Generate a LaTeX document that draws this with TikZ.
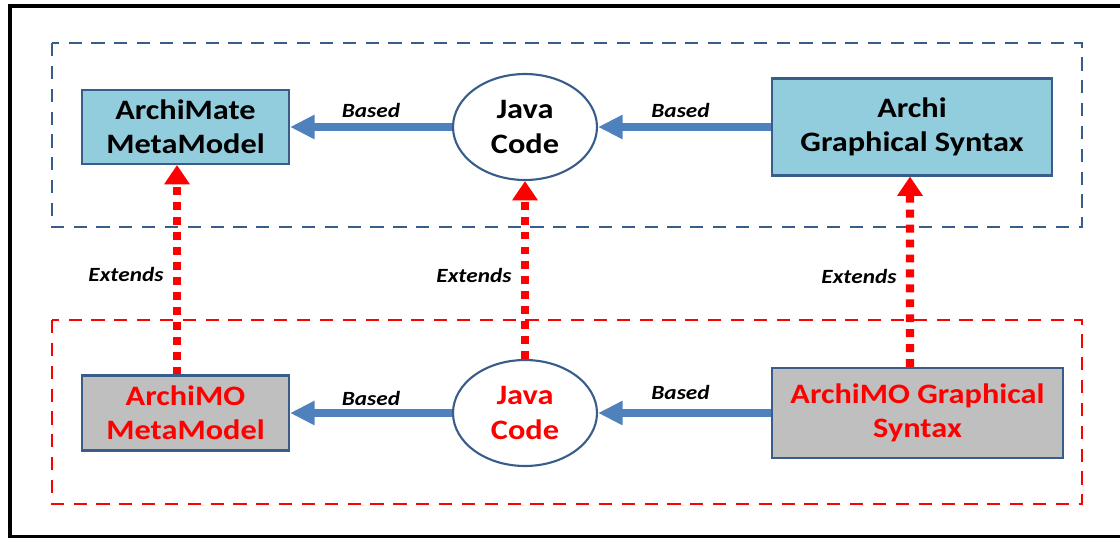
\documentclass[tikz,border=0pt]{standalone}
\usepackage{fontspec}
\setmainfont{Carlito}[FakeStretch=1.15]
\usepackage{tikz}
\usetikzlibrary{arrows.meta,shapes.geometric}
\definecolor{fillblue}{RGB}{146,205,221}
\definecolor{fillgray}{RGB}{191,191,191}
\definecolor{borderblue}{RGB}{56,93,138}
\definecolor{lineblue}{RGB}{79,129,189}
\tikzstyle{boxblue}=[rectangle, draw=borderblue, line width=1.2pt, fill=fillblue, align=center, font=\fontsize{16}{19.5}\selectfont\bfseries]
\tikzstyle{boxgray}=[rectangle, draw=borderblue, line width=1.2pt, fill=fillgray, text=red, align=center, font=\fontsize{16}{19.5}\selectfont\bfseries]
\tikzstyle{javaoval}=[ellipse, draw=borderblue, line width=1.2pt, fill=white, minimum width=2.88cm, minimum height=2.12cm, align=center, font=\fontsize{16}{19.5}\selectfont\bfseries]
\tikzstyle{based}=[draw=lineblue, line width=4pt, -{Triangle[length=14pt, width=13pt]}]
\tikzstyle{extends}=[draw=red, line width=4.8pt, dash pattern=on 4.5pt off 4pt, -{Triangle[length=11pt, width=14pt]}]
\tikzstyle{edgelabel}=[font=\fontsize{11.5}{13}\selectfont\bfseries\itshape, text=black]
\tikzstyle{groupblue}=[draw=borderblue, line width=1.4pt, dash pattern=on 7.5pt off 5.5pt]
\tikzstyle{groupred}=[draw=red, line width=1.4pt, dash pattern=on 7.5pt off 5.5pt]

\begin{document}
\begin{tikzpicture}[x=0.02cm, y=-0.02cm]
		\useasboundingbox (0, 0) rectangle (1120, 538);
		\begin{scope}
			\clip (0, 0) rectangle (1120, 538);
			\draw [line width=2.8pt] (10, 6) rectangle (1140, 537);
		\end{scope}
		\draw [groupblue] (52, 43) rectangle (1082, 227);
		\draw [groupred] (52, 320) rectangle (1082, 504);

		\begin{scope}
			\node (amm) at (185.5, 127)[boxblue, minimum width=4.14cm, minimum height=1.48cm] {ArchiMate\\MetaModel};
			\node (jct) at (525, 127)[javaoval] {Java\\Code};
			\node (ags) at (912, 127)[boxblue, minimum width=5.6cm, minimum height=1.94cm] {Archi\\Graphical Syntax};

			\node (omm) at (185.5, 413)[boxgray, minimum width=4.14cm, minimum height=1.5cm] {ArchiMO\\MetaModel};
			\node (jcb) at (525, 413)[javaoval, text=red] {Java\\Code};
			\node (ogs) at (917.5, 413)[boxgray, minimum width=5.82cm, minimum height=1.8cm] {ArchiMO Graphical\\Syntax};
		\end{scope}
		\begin{scope}
			\draw [based] (jct) -- node[edgelabel, above=0pt] {Based} (amm);
			\draw [based] (ags) -- node[edgelabel, above=0pt, xshift=-0.08cm] {Based} (jct);
			\draw [based] (jcb) -- node[edgelabel, above=-1pt] {Based} (omm);
			\draw [based] (ogs) -- node[edgelabel, above=2pt, xshift=-0.08cm] {Based} (jcb);

			\draw [extends] ([xshift=-0.17cm]omm.north) -- node[edgelabel, left=2pt, yshift=-0.1cm] {Extends} ([xshift=-0.17cm]amm.south);
			\draw [extends] (jcb) -- node[edgelabel, left=2pt, yshift=-0.1cm] {Extends} (jct);
			\draw [extends] ([xshift=-0.15cm]ogs.north) -- node[edgelabel, left=2pt, yshift=-0.1cm] {Extends} ([xshift=-0.04cm]ags.south);
		\end{scope}
\end{tikzpicture}
\end{document}
